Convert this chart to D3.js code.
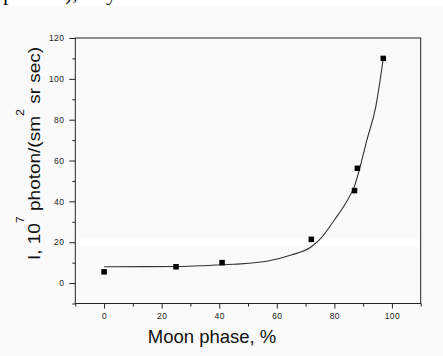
<!DOCTYPE html>
<html>
<head>
<meta charset="utf-8">
<script src="https://cdn.jsdelivr.net/npm/d3@7"></script>
<style>
  html, body { margin: 0; padding: 0; background: #fafafa; }
  svg { display: block; }
</style>
</head>
<body>
<div id="chart"></div>
<script>
// measured points
const phase = [0, 25, 41, 72, 87, 88, 97];
const intensity = [5.5, 8.0, 10.0, 21.4, 45.3, 56.2, 110];

// fitted curve
const fitPhase = [0, 25, 33.5, 45, 57, 65, 72, 75.3, 80, 84.6, 87, 88, 91.3, 94.4, 97];
const fitIntensity = [8.0, 8.1, 8.5, 9.2, 10.8, 13.7, 17.8, 21.9, 30.9, 40.7, 47.5, 52, 70, 86.4, 110];

const xTicks = [0, 20, 40, 60, 80, 100];
const xMinor = [-10, 10, 30, 50, 70, 90, 110];
const yTicks = [0, 20, 40, 60, 80, 100, 120];
const yMinor = [-10, 10, 30, 50, 70, 90, 110];

const width = 443;
const height = 356;
const margin = { top: 38, right: 22.3, bottom: 52.5, left: 75.3 };
const innerWidth = width - margin.left - margin.right;
const innerHeight = height - margin.top - margin.bottom;

const svg = d3.select("#chart").append("svg")
  .attr("width", width)
  .attr("height", height);

// white strip at the top with the clipped line of text above the figure
svg.append("rect").attr("width", width).attr("height", 5.5).attr("fill", "#fff");
const topText = svg.append("g")
  .attr("font-family", "Liberation Serif, serif")
  .attr("font-size", 22)
  .attr("fill", "#111");
topText.append("text").attr("x", 3).attr("y", 0).text("p");
topText.append("text").attr("x", 65).attr("y", 0).text("),");
topText.append("text").attr("x", 106).attr("y", 0).text("y");

const wrapper = svg.append("g")
  .attr("transform", `translate(${margin.left}, ${margin.top})`);

const x = d3.scaleLinear().domain([-10, 110]).range([0, innerWidth]);
const y = d3.scaleLinear().domain([-10, 120]).range([innerHeight, 0]);

// scan artefact: faint white band across the plot
wrapper.append("rect")
  .attr("x", 0.5).attr("y", y(21.5))
  .attr("width", innerWidth - 1).attr("height", 6)
  .attr("fill", "#ffffff");

const tickFont = (g) => g.selectAll("text")
  .attr("font-family", "Liberation Sans, Arial, sans-serif")
  .attr("font-size", 8.5)
  .attr("letter-spacing", 0.4)
  .attr("fill", "#222");

// x axis
wrapper.append("g")
  .attr("transform", `translate(0, ${innerHeight})`)
  .call(d3.axisBottom(x).tickValues(xTicks).tickSize(5).tickPadding(4))
  .call((g) => g.select(".domain").remove())
  .call((g) => g.selectAll("line").attr("stroke", "#222"))
  .call(tickFont);
wrapper.append("g")
  .attr("transform", `translate(0, ${innerHeight})`)
  .call(d3.axisBottom(x).tickValues(xMinor).tickSize(3).tickFormat(""))
  .call((g) => g.select(".domain").remove())
  .call((g) => g.selectAll("line").attr("stroke", "#222"));

// y axis
wrapper.append("g")
  .call(d3.axisLeft(y).tickValues(yTicks).tickSize(6).tickPadding(5))
  .call((g) => g.select(".domain").remove())
  .call((g) => g.selectAll("line").attr("stroke", "#222"))
  .call(tickFont);
wrapper.append("g")
  .call(d3.axisLeft(y).tickValues(yMinor).tickSize(3).tickFormat(""))
  .call((g) => g.select(".domain").remove())
  .call((g) => g.selectAll("line").attr("stroke", "#222"));

// frame
wrapper.append("rect")
  .attr("width", innerWidth)
  .attr("height", innerHeight)
  .attr("fill", "none")
  .attr("stroke", "#222")
  .attr("stroke-width", 1);

// fit curve
const fit = fitPhase.map((p, i) => ({ p, v: fitIntensity[i] }));
wrapper.append("path")
  .datum(fit)
  .attr("fill", "none")
  .attr("stroke", "#333")
  .attr("stroke-width", 1.1)
  .attr("d", d3.line().x((d) => x(d.p)).y((d) => y(d.v)).curve(d3.curveMonotoneX));

// points
const pts = phase.map((p, i) => ({ p, v: intensity[i] }));
const s = 5.5;
wrapper.append("g")
  .selectAll("rect")
  .data(pts)
  .join("rect")
  .attr("x", (d) => x(d.p) - s / 2)
  .attr("y", (d) => y(d.v) - s / 2)
  .attr("width", s)
  .attr("height", s)
  .attr("fill", "#000");

// axis titles
svg.append("text")
  .attr("x", 212)
  .attr("y", 343)
  .attr("text-anchor", "middle")
  .attr("font-family", "Liberation Sans, Arial, sans-serif")
  .attr("font-size", 18.5)
  .attr("fill", "#111")
  .text("Moon phase, %");

const yTitle = svg.append("text")
  .attr("transform", "translate(40, 153.5) rotate(-90) scale(1, 0.88)")
  .attr("text-anchor", "middle")
  .attr("font-family", "Liberation Sans, Arial, sans-serif")
  .attr("font-size", 19)
  .attr("fill", "#111");
yTitle.append("tspan").text("I, 10");
yTitle.append("tspan").attr("dy", -18).attr("font-size", 12.5).text("7");
yTitle.append("tspan").attr("dy", 18).text(" photon/(sm");
yTitle.append("tspan").attr("dy", -18).attr("font-size", 12.5).text("2");
yTitle.append("tspan").attr("dy", 18).text(" sr sec)");
</script>
</body>
</html>
